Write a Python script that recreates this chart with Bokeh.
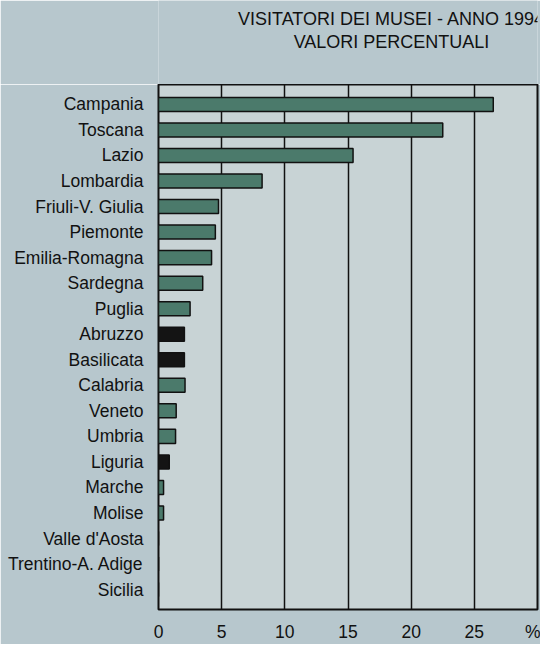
from bokeh.plotting import figure
from bokeh.layouts import column
from bokeh.models import FactorRange, Range1d, ColumnDataSource, FixedTicker
from bokeh.core.properties import value
from bokeh.embed import file_html
from bokeh.resources import INLINE

regions = ["Campania", "Toscana", "Lazio", "Lombardia", "Friuli-V. Giulia", "Piemonte",
           "Emilia-Romagna", "Sardegna", "Puglia", "Abruzzo", "Basilicata", "Calabria",
           "Veneto", "Umbria", "Liguria", "Marche", "Molise", "Valle d'Aosta",
           "Trentino-A. Adige", "Sicilia"]
values = [26.5, 22.5, 15.4, 8.2, 4.75, 4.5, 4.2, 3.5, 2.5, 2.05, 2.05, 2.1,
          1.4, 1.35, 0.85, 0.4, 0.4, 0.0, 0.0, 0.0]
dark_regions = ["Abruzzo", "Basilicata", "Liguria"]
x_ticks = [0, 5, 10, 15, 20, 25, 30]
x_tick_labels = ["0", "5", "10", "15", "20", "25", "%"]
title_lines = ["VISITATORI DEI MUSEI - ANNO 1994", "VALORI PERCENTUALI"]

GREEN = "#4b7a6b"
BORDER = "#b7c7cd"
W = 540

# ---- title strip (pixel coordinates, top-down) ----
th = 84
t = figure(width=W, height=th, output_backend="svg", toolbar_location=None,
           x_range=Range1d(0, W), y_range=Range1d(th, 0),
           x_axis_type=None, y_axis_type=None,
           min_border_left=0, min_border_right=0, min_border_top=0, min_border_bottom=0)
t.outline_line_color = None
t.background_fill_color = BORDER
t.border_fill_color = BORDER
t.xgrid.visible = False
t.ygrid.visible = False
tsrc = ColumnDataSource(dict(x=[332, 332], y=[18, 41], text=title_lines))
t.text(x="x", y="y", text="text", source=tsrc, text_align="center",
       text_baseline="middle", text_font=value("Liberation Sans"),
       text_font_size="18px", text_color="#111111")

# ---- main chart ----
fills = ["#141414" if r in dark_regions else GREEN for r in regions]
src = ColumnDataSource(dict(region=regions, value=values, fill=fills))

p = figure(width=W, height=560, output_backend="svg", toolbar_location=None,
           y_range=FactorRange(factors=list(reversed(regions)), range_padding=0.028,
                               range_padding_units="percent"),
           x_range=Range1d(0, 30),
           min_border_left=158, min_border_right=3, min_border_top=0, min_border_bottom=31)

p.hbar(y="region", left=0, right="value", height=0.55, source=src,
       fill_color="fill", line_color="#111111", line_width=1.5)

p.background_fill_color = "#c8d3d5"
p.border_fill_color = BORDER
p.outline_line_color = "#111111"
p.outline_line_width = 2

p.ygrid.grid_line_color = None
p.xgrid.grid_line_color = "#111111"
p.xgrid.grid_line_width = 1.5
p.xaxis.ticker = FixedTicker(ticks=x_ticks)
p.xaxis.major_label_overrides = {tk: lb for tk, lb in zip(x_ticks, x_tick_labels)}

for ax in (p.xaxis, p.yaxis):
    ax.axis_line_color = None
    ax.major_tick_line_color = None
    ax.minor_tick_line_color = None
    ax.major_tick_out = 0
    ax.major_tick_in = 0
    ax.major_label_text_font = "Liberation Sans"
    ax.major_label_text_font_size = "17.5px"
    ax.major_label_text_color = "#111111"
p.yaxis.major_label_standoff = 15
p.xaxis.major_label_standoff = 12

layout = column(t, p, spacing=0)
open("out.html", "w").write(file_html(layout, INLINE))
